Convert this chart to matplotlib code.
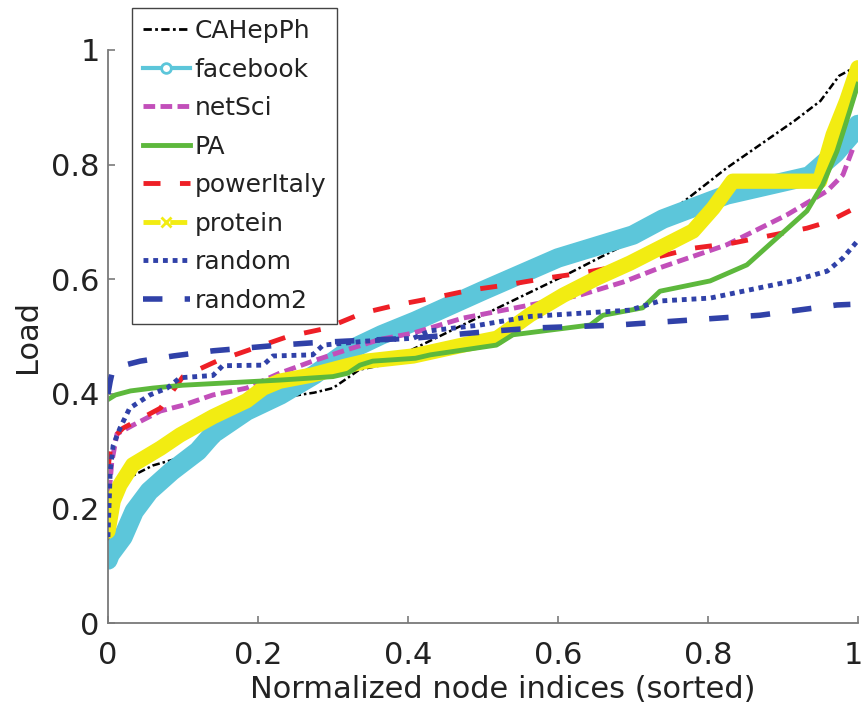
import numpy as np
import matplotlib
matplotlib.use("Agg")
import matplotlib.pyplot as plt
import matplotlib.transforms as mtransforms
from matplotlib.lines import Line2D

plt.rcParams['font.family'] = ['DejaVu Sans']

# ---- data (x = normalized node index, y = load) ----
x_cahepph = [0, 0.005, 0.015, 0.03, 0.06, 0.10, 0.14, 0.165, 0.21, 0.23, 0.275, 0.30, 0.32, 0.335,
             0.365, 0.41, 0.52, 0.61, 0.68, 0.74, 0.825, 0.915, 0.95, 0.975, 0.995]
y_cahepph = [0.14, 0.19, 0.23, 0.255, 0.275, 0.29, 0.31, 0.34, 0.38, 0.393, 0.402, 0.41, 0.428, 0.442,
             0.45, 0.48, 0.55, 0.607, 0.654, 0.707, 0.794, 0.876, 0.911, 0.955, 0.969]

x_facebook = [0, 0.003, 0.02, 0.035, 0.055, 0.085, 0.12, 0.14, 0.185, 0.23, 0.275, 0.32, 0.365, 0.41,
              0.5, 0.6, 0.7, 0.74, 0.825, 0.935, 0.97, 0.99, 1.0]
y_facebook = [0.11, 0.12, 0.15, 0.195, 0.23, 0.265, 0.30, 0.33, 0.37, 0.398, 0.433, 0.475, 0.503, 0.527,
              0.58, 0.637, 0.677, 0.705, 0.747, 0.78, 0.82, 0.85, 0.87]

x_netsci = [0, 0.005, 0.012, 0.033, 0.07, 0.10, 0.14, 0.185, 0.229, 0.273, 0.319, 0.363, 0.407, 0.473,
            0.563, 0.629, 0.687, 0.736, 0.825, 0.905, 0.959, 0.98, 0.995]
y_netsci = [0.20, 0.28, 0.33, 0.345, 0.37, 0.38, 0.398, 0.41, 0.436, 0.457, 0.477, 0.495, 0.506, 0.532,
            0.555, 0.572, 0.595, 0.62, 0.66, 0.712, 0.754, 0.782, 0.834]

x_pa = [0, 0.01, 0.03, 0.06, 0.10, 0.23, 0.30, 0.32, 0.336, 0.353, 0.41, 0.43, 0.518, 0.54, 0.643,
        0.66, 0.713, 0.736, 0.803, 0.852, 0.892, 0.932, 0.953, 0.972, 0.989, 1.0]
y_pa = [0.39, 0.398, 0.405, 0.41, 0.415, 0.424, 0.43, 0.436, 0.45, 0.457, 0.462, 0.468, 0.485, 0.503, 0.52,
        0.537, 0.55, 0.579, 0.597, 0.625, 0.672, 0.719, 0.765, 0.823, 0.893, 0.94]

x_poweritaly = [0, 0.005, 0.02, 0.07, 0.10, 0.145, 0.24, 0.29, 0.34, 0.385, 0.433, 0.483, 0.532, 0.585,
                0.633, 0.69, 0.78, 0.833, 0.932, 0.96, 0.99]
y_poweritaly = [0.27, 0.32, 0.34, 0.375, 0.43, 0.457, 0.50, 0.514, 0.541, 0.555, 0.567, 0.581, 0.59, 0.602,
                0.611, 0.625, 0.654, 0.663, 0.689, 0.70, 0.72]

x_protein = [0, 0.007, 0.016, 0.033, 0.07, 0.096, 0.14, 0.185, 0.207, 0.229, 0.273, 0.319, 0.345, 0.407,
             0.473, 0.519, 0.563, 0.607, 0.652, 0.696, 0.78, 0.807, 0.833, 0.949, 0.967, 0.985, 1.0]
y_protein = [0.16, 0.213, 0.241, 0.276, 0.305, 0.328, 0.36, 0.388, 0.41, 0.422, 0.433, 0.449, 0.457, 0.466,
             0.485, 0.497, 0.538, 0.572, 0.602, 0.628, 0.684, 0.724, 0.771, 0.771, 0.852, 0.911, 0.969]

x_random = [0, 0.003, 0.007, 0.016, 0.029, 0.056, 0.079, 0.096, 0.14, 0.153, 0.207, 0.22, 0.273, 0.287,
            0.345, 0.407, 0.43, 0.496, 0.563, 0.696, 0.736, 0.803, 0.869, 0.913, 0.959, 0.98, 0.999]
y_random = [0.15, 0.265, 0.31, 0.34, 0.375, 0.398, 0.41, 0.428, 0.432, 0.449, 0.45, 0.466, 0.468, 0.485,
            0.492, 0.497, 0.51, 0.52, 0.535, 0.546, 0.562, 0.567, 0.585, 0.597, 0.614, 0.637, 0.666]

x_random2 = [0, 0.003, 0.007, 0.043, 0.087, 0.14, 0.185, 0.229, 0.273, 0.319, 0.407, 0.519, 0.572, 0.679,
             0.78, 0.869, 0.972, 0.99]
y_random2 = [0.40, 0.422, 0.445, 0.457, 0.466, 0.475, 0.48, 0.485, 0.489, 0.492, 0.497, 0.51, 0.515, 0.52,
             0.529, 0.537, 0.555, 0.556]

names = ['CAHepPh', 'facebook', 'netSci', 'PA', 'powerItaly', 'protein', 'random', 'random2']
ticks = [0, 0.2, 0.4, 0.6, 0.8, 1]
tick_labels = ['0', '0.2', '0.4', '0.6', '0.8', '1']

# colours
c_black = 'k'
c_cyan = '#5CC6DA'
c_mag = '#C24FBA'
c_green = '#5DB83C'
c_red = '#EE1F26'
c_yellow = '#F2EC12'
c_blue = '#3041A8'

fig = plt.figure(figsize=(8.63, 7.19), dpi=100)
ax = fig.add_axes([0.1251, 0.1335, 0.869, 0.797])

# drawn in the same order as the legend (MATLAB style), PA kept above protein
ax.plot(x_cahepph, y_cahepph, color=c_black, lw=1.8, dashes=(3, 1.2, 1, 1.2), zorder=2)
ax.plot(x_facebook, y_facebook, color=c_cyan, lw=14, solid_capstyle='round', solid_joinstyle='round', zorder=2.1)
ax.plot(x_netsci, y_netsci, color=c_mag, lw=3.5, dashes=(2.4, 1.1), zorder=2.2)
ax.plot(x_poweritaly, y_poweritaly, color=c_red, lw=3.5, dashes=(3.5, 4.0), zorder=2.3)
ax.plot(x_protein, y_protein, color=c_yellow, lw=11, solid_capstyle='round', solid_joinstyle='round', zorder=2.4)
ax.plot(x_pa, y_pa, color=c_green, lw=3.5, zorder=2.5)
ax.plot(x_random, y_random, color=c_blue, lw=3.5, dashes=(1.0, 1.0), zorder=2.6)
ax.plot(x_random2, y_random2, color=c_blue, lw=4, dashes=(3.5, 4.0), zorder=2.7)

ax.set_xlim(0, 1)
ax.set_ylim(0, 1)
ax.set_xticks(ticks)
ax.set_yticks(ticks)
ax.set_xticklabels(tick_labels)
ax.set_yticklabels(tick_labels)
ax.spines['top'].set_visible(False)
ax.spines['right'].set_visible(False)
for s in ['left', 'bottom']:
    ax.spines[s].set_color('#7a7a7a')
    ax.spines[s].set_linewidth(1.3)
ax.tick_params(direction='in', length=5, width=1.2, color='#7a7a7a', labelsize=22, labelcolor='#222222')
ax.tick_params(axis='x', pad=13)
ax.tick_params(axis='y', pad=6)

# keep the last x tick label inside the canvas
last = ax.get_xticklabels()[-1]
last.set_transform(last.get_transform() + mtransforms.ScaledTranslation(-5 / 100, 0, fig.dpi_scale_trans))

ax.set_xlabel('Normalized node indices (sorted)', fontsize=22, color='#222222')
ax.xaxis.set_label_coords(0.527, -0.091)
ax.set_ylabel('Load', fontsize=22, color='#222222')
ax.yaxis.set_label_coords(-0.088, 0.5)

handles = [
    Line2D([], [], color=c_black, lw=2, dashes=(3, 1.2, 1, 1.2)),
    Line2D([], [], color=c_cyan, lw=3, marker='o', markerfacecolor='white', markersize=7, markeredgewidth=2),
    Line2D([], [], color=c_mag, lw=3.5, dashes=(2.4, 1.1)),
    Line2D([], [], color=c_green, lw=3.5),
    Line2D([], [], color=c_red, lw=3.5, dashes=(3.5, 4.0)),
    Line2D([], [], color=c_yellow, lw=3.5, dashes=(3.5, 2.0), marker='x', markersize=7, markeredgewidth=2),
    Line2D([], [], color=c_blue, lw=3.5, dashes=(1.0, 1.0)),
    Line2D([], [], color=c_blue, lw=4, dashes=(3.5, 4.0)),
]
leg = ax.legend(handles, names, loc='upper left', bbox_to_anchor=(0.153, 0.989),
                bbox_transform=fig.transFigure, fontsize=18, frameon=True, fancybox=False,
                handlelength=1.85, handletextpad=0.2, labelspacing=0.58, borderpad=0.45,
                borderaxespad=0, framealpha=1)
leg.get_frame().set_edgecolor('#444444')
leg.get_frame().set_linewidth(1.0)
for t in leg.get_texts():
    t.set_color('#222222')

fig.savefig('out.png', dpi=100)
